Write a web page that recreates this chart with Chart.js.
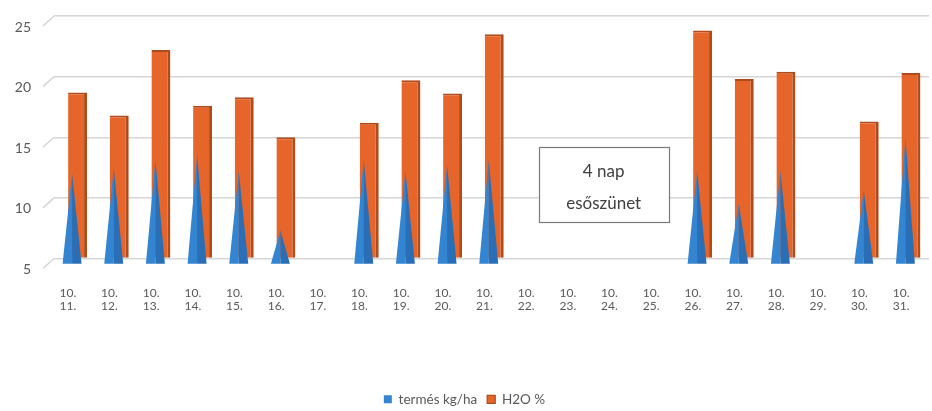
<!DOCTYPE html>
<html>
<head>
<meta charset="utf-8">
<script src="https://cdn.jsdelivr.net/npm/chart.js@4/dist/chart.umd.min.js"></script>
<style>
  html, body { margin: 0; padding: 0; background: #ffffff; }
  #wrap { width: 932px; height: 411px; }
</style>
</head>
<body>
<div id="wrap"><canvas id="c" width="932" height="411"></canvas></div>
<script>
// Harvest days (month. day.)
const days = ['10. 11.', '10. 12.', '10. 13.', '10. 14.', '10. 15.', '10. 16.', '10. 17.',
              '10. 18.', '10. 19.', '10. 20.', '10. 21.', '10. 22.', '10. 23.', '10. 24.',
              '10. 25.', '10. 26.', '10. 27.', '10. 28.', '10. 29.', '10. 30.', '10. 31.'];
// Yield per day, null = no harvest
const yieldKgHa = [12.0, 12.4, 13.1, 13.5, 12.2, 7.3, null,
                   13.1, 12.2, 12.7, 13.1, null, null, null,
                   null, 12.2, 9.5, 12.2, null, 10.6, 14.9];
// Grain moisture content, %
const waterPct  = [18.7, 16.8, 22.2, 17.6, 18.3, 15.0, null,
                   16.2, 19.7, 18.6, 23.5, null, null, null,
                   null, 23.8, 19.8, 20.4, null, 16.3, 20.3];
const yTicks = [5, 10, 15, 20, 25];
const seriesNames = ['termés kg/ha', 'H2O %'];
const noteLines = ['4 nap', 'esőszünet'];

const BLUE = '#3384d1';
const BLUE_DARK = '#2a6fb6';
const ORANGE = '#e5652a';
const ORANGE_EDGE = '#b04c1c';
const GRID = '#d6d6d6';
const TEXT = '#595959';
const FONT = 'Lato, "Open Sans", "Liberation Sans", sans-serif';

// Cones for the first series: the bar itself is skipped and a two-tone triangle is drawn instead
const conePlugin = {
  id: 'cones',
  beforeDatasetDraw(chart, args) {
    if (args.index === 0) return false;
  },
  afterDatasetsDraw(chart) {
    const meta = chart.getDatasetMeta(0);
    const ctx = chart.ctx;
    ctx.save();
    meta.data.forEach((el, i) => {
      if (yieldKgHa[i] == null) return;
      const p = el.getProps(['x', 'y', 'base', 'width'], true);
      const half = p.width / 2;
      const baseY = p.base + 6;
      ctx.beginPath();
      ctx.moveTo(p.x - half, baseY);
      ctx.lineTo(p.x, p.y);
      ctx.lineTo(p.x, baseY);
      ctx.closePath();
      ctx.fillStyle = BLUE;
      ctx.fill();
      ctx.beginPath();
      ctx.moveTo(p.x, baseY);
      ctx.lineTo(p.x, p.y);
      ctx.lineTo(p.x + half, baseY);
      ctx.closePath();
      ctx.fillStyle = BLUE_DARK;
      ctx.fill();
    });
    ctx.restore();
  }
};

// Short slanted floor edges joining each gridline to its label
const wallPlugin = {
  id: 'wallEdges',
  beforeDatasetsDraw(chart) {
    const y = chart.scales.y;
    const ctx = chart.ctx;
    const left = chart.chartArea.left;
    ctx.save();
    ctx.strokeStyle = GRID;
    ctx.lineWidth = 1.5;
    yTicks.forEach(v => {
      const py = y.getPixelForValue(v);
      ctx.beginPath();
      ctx.moveTo(left - 11, py + 10);
      ctx.lineTo(left, py);
      ctx.stroke();
    });
    ctx.restore();
  }
};

// Framed note over the rain break
const notePlugin = {
  id: 'note',
  afterDraw(chart) {
    const x = chart.scales.x, y = chart.scales.y;
    const ctx = chart.ctx;
    const cx = (x.getPixelForValue(12) + x.getPixelForValue(13)) / 2 + 8;
    const cy = y.getPixelForValue(11.1);
    const w = 130, h = 75;
    ctx.save();
    ctx.fillStyle = '#ffffff';
    ctx.fillRect(cx - w / 2, cy - h / 2, w, h);
    ctx.strokeStyle = '#7a7a7a';
    ctx.lineWidth = 1.2;
    ctx.strokeRect(Math.round(cx - w / 2) + 0.5, Math.round(cy - h / 2) + 0.5, w, h);
    ctx.fillStyle = '#404040';
    ctx.font = '17px ' + FONT;
    ctx.textAlign = 'center';
    ctx.textBaseline = 'middle';
    ctx.fillText(noteLines[0], cx, cy - 13);
    ctx.fillText(noteLines[1], cx, cy + 19);
    ctx.restore();
  }
};

new Chart(document.getElementById('c'), {
  type: 'bar',
  data: {
    labels: days,
    datasets: [
      { label: seriesNames[0], data: yieldKgHa, base: 5, backgroundColor: BLUE, borderWidth: 0 },
      { label: seriesNames[1], data: waterPct, base: 5, backgroundColor: ORANGE,
        borderColor: ORANGE_EDGE, borderWidth: { top: 2, right: 3, left: 0, bottom: 0 }, borderSkipped: false }
    ]
  },
  options: {
    responsive: false,
    animation: false,
    events: [],
    categoryPercentage: 0.264,
    barPercentage: 3.45,
    layout: { padding: { top: 16, right: 3, left: 0, bottom: -5 } },
    plugins: {
      tooltip: { enabled: false },
      legend: {
        position: 'bottom',
        labels: {
          boxWidth: 8, boxHeight: 8, padding: 10,
          color: TEXT, font: { family: FONT, size: 13.5 }
        }
      }
    },
    scales: {
      x: {
        grid: { display: false, drawTicks: false },
        border: { display: false },
        ticks: {
          color: TEXT, font: { family: FONT, size: 12, lineHeight: 1.1 },
          padding: 28, labelOffset: -7, maxRotation: 0, minRotation: 0, autoSkip: false,
          callback(v, i) { return days[i].split(' '); }
        },
        afterFit(scale) {
          scale.height = 124;
          scale.paddingLeft = 0;
          scale.paddingRight = 0;
        }
      },
      y: {
        min: 5, max: 25,
        afterBuildTicks(scale) { scale.ticks = yTicks.map(v => ({ value: v })); },
        grid: { color: GRID, lineWidth: 1.5, drawTicks: false },
        border: { display: false },
        ticks: {
          color: TEXT, font: { family: FONT, size: 14 },
          padding: 23, labelOffset: 11
        },
        afterFit(scale) {
          scale.width = 54;
          scale.paddingTop = 0;
          scale.paddingBottom = 0;
        }
      }
    }
  },
  plugins: [conePlugin, wallPlugin, notePlugin]
});
</script>
</body>
</html>
